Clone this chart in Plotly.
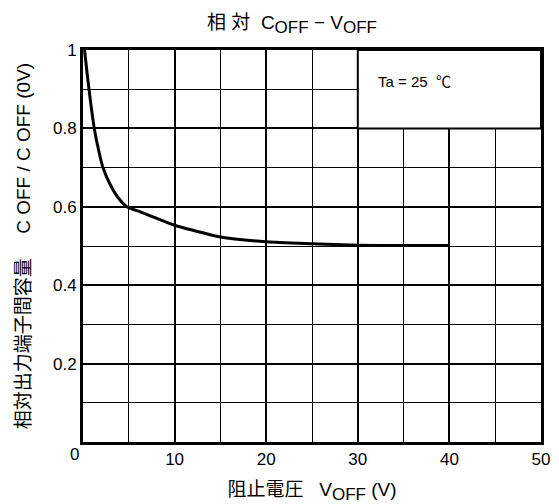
import plotly.graph_objects as go

# Data
v_off = [0.17, 0.45, 0.8, 1.23, 1.7, 2.18, 2.9, 3.78, 4.8, 6.27, 8.0, 10.0, 12.0, 15.0, 20.0, 25.0, 30.0, 35.0, 40.0]
c_rel = [1.0, 0.94, 0.872, 0.8, 0.745, 0.7, 0.66, 0.625, 0.6, 0.587, 0.571, 0.553, 0.54, 0.523, 0.511, 0.506, 0.502, 0.501, 0.501]

x_ticks = [10, 20, 30, 40, 50]
y_ticks = [0.2, 0.4, 0.6, 0.8, 1]
y_ticklabels = ["0.2", "0.4", "0.6", "0.8", "1"]

FONT = "Liberation Sans, Arial, Noto Sans CJK JP, sans-serif"
SUB = '<sub><span style="font-size:17px">{}</span></sub>'

fig = go.Figure()
fig.add_trace(go.Scatter(x=v_off, y=c_rel, mode="lines",
                         line=dict(color="black", width=3, shape="spline", smoothing=0.6),
                         showlegend=False, hoverinfo="skip"))

fig.add_shape(type="rect", xref="x", yref="y", x0=30, x1=50, y0=0.8, y1=1.0,
              fillcolor="white", line=dict(color="black", width=2), layer="above")
fig.add_annotation(x=32, y=0.92, xref="x", yref="y", text="Ta = 25  ℃", showarrow=False,
                   xanchor="left", yanchor="middle", font=dict(size=15, color="black", family=FONT))
fig.add_annotation(x=0, y=0, xref="x", yref="y", text="0", showarrow=False,
                   xshift=-9, yshift=-12, font=dict(size=17, color="black", family=FONT))

fig.update_layout(
    width=559, height=504,
    margin=dict(l=83, r=18, t=50, b=62),
    paper_bgcolor="white", plot_bgcolor="white",
    font=dict(family=FONT, color="black", size=17),
    title=dict(text="相 対  C" + SUB.format("OFF") + " − V" + SUB.format("OFF"), x=292/559, xref="container",
               xanchor="center", y=1-22/504, yref="container", yanchor="middle",
               font=dict(size=19, color="black", family=FONT)),
    xaxis=dict(range=[0, 50], tickvals=x_ticks, ticktext=[str(t) for t in x_ticks], showgrid=True,
               gridcolor="black", gridwidth=2, showline=True, linecolor="black", linewidth=3, mirror=True,
               ticks="", zeroline=False, tickfont=dict(size=17), automargin=False,
               minor=dict(dtick=5, tick0=0, showgrid=True, gridcolor="black", gridwidth=1.2),
               title=dict(text="阻止電圧   V" + SUB.format("OFF") + " (V)", standoff=16, font=dict(size=19))),
    yaxis=dict(range=[0, 1], tickvals=y_ticks, ticktext=y_ticklabels, showgrid=True,
               gridcolor="black", gridwidth=2, showline=True, linecolor="black", linewidth=3, mirror=True,
               ticks="", zeroline=False, tickfont=dict(size=17), automargin=False,
               minor=dict(dtick=0.1, tick0=0, showgrid=True, gridcolor="black", gridwidth=1.2),
               title=dict(text="相対出力端子間容量　 C OFF / C OFF (0V)", standoff=18, font=dict(size=19))),
)

fig.write_html("out.html", config={"displayModeBar": False},
               post_script="document.body.style.margin='0';document.body.style.overflow='hidden';")
